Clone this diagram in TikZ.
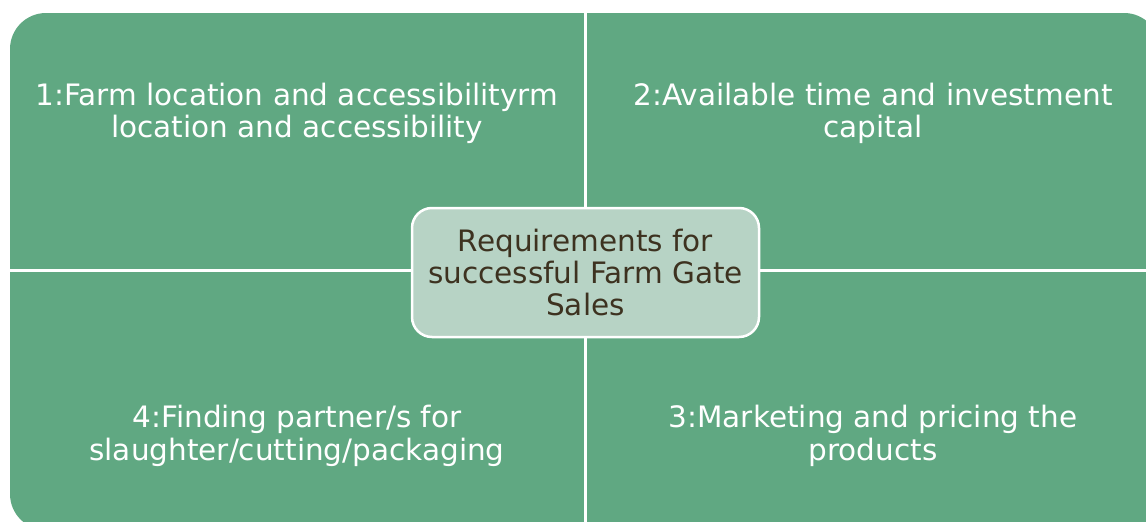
\documentclass[tikz,border=0pt]{standalone}
\usepackage{fontspec}
\setmainfont{DejaVu Sans}
\definecolor{quadgreen}{HTML}{60A882}
\definecolor{centerfill}{HTML}{B7D3C5}
\definecolor{centertext}{HTML}{3D3220}
\begin{document}
\begin{tikzpicture}[x=1pt,y=-1pt,
  quadtext/.style={text=white, align=center, font=\fontsize{29.5}{32.5}\selectfont, inner sep=0pt},
  centerbox/.style={draw=white, line width=2.5pt, fill=centerfill, rounded corners=20pt,
    minimum width=347pt, minimum height=129pt, text=centertext, align=center,
    font=\fontsize{29.5}{32}\selectfont, inner sep=0pt},
  divider/.style={white, line width=3pt}]
\useasboundingbox (0,0) rectangle (1146,522);
\clip (0,0) rectangle (1146,522);
\fill[quadgreen, rounded corners=36pt] (10,13) rectangle (1160,530);
\coordinate (top) at (585,0);
\coordinate (bottom) at (585,530);
\coordinate (left) at (0,270);
\coordinate (right) at (1160,270);
\node[centerbox] (c) at (585.5,272.5) {Requirements for\\successful Farm Gate\\Sales};
\draw[divider] (top) -- (top |- c.north);
\draw[divider] (bottom |- c.south) -- (bottom);
\draw[divider] (left) -- (left -| c.west);
\draw[divider] (right -| c.east) -- (right);
\node[quadtext, anchor=base] (q1) at (297,137.5) {1:Farm location and accessibilityrm\\location and accessibility};
\node[quadtext, anchor=base] (q2) at (873,137.5) {2:Available time and investment\\capital};
\node[quadtext, anchor=base] (q3) at (873,460) {3:Marketing and pricing the\\products};
\node[quadtext, anchor=base] (q4) at (297,460) {4:Finding partner/s for\\slaughter/cutting/packaging};
\end{tikzpicture}
\end{document}
